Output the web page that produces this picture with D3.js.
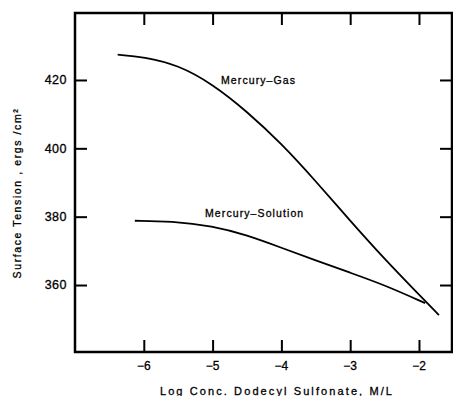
<!DOCTYPE html>
<html>
<head>
<meta charset="utf-8">
<script src="https://cdn.jsdelivr.net/npm/d3@7"></script>
<style>
  body { margin: 0; background: #fff; }
  text { font-family: "Liberation Sans", Arial, sans-serif; fill: #000; }
</style>
</head>
<body>
<svg id="chart" width="453" height="396"></svg>
<script>
// data
var gasX = [-6.38, -6.0, -5.5, -5.0, -4.5, -4.0, -3.5, -3.0, -2.5, -2.0, -1.71];
var gasY = [427.4, 426.8, 424.4, 418.8, 410.8, 401.4, 390.4, 378.8, 367.6, 357.2, 351.2];
var solX = [-6.13, -5.6, -5.0, -4.5, -4.0, -3.5, -3.0, -2.5, -1.91];
var solY = [378.8, 378.7, 377.3, 374.6, 370.9, 367.2, 363.6, 360.0, 354.7];
var xTicks = [-6, -5, -4, -3, -2];
var yTicks = [360, 380, 400, 420];

var svg = d3.select("#chart"),
	margin = {top: 13, right: 1, bottom: 44, left: 75},
	width = +svg.attr("width") - margin.left - margin.right,
	height = +svg.attr("height") - margin.top - margin.bottom;

var x = d3.scaleLinear()
	.domain([-7.0, -1.52])
	.range([margin.left, margin.left + width]);

var y = d3.scaleLinear()
	.domain([340.4, 439.6])
	.range([margin.top + height, margin.top]);

var tickLen = 12;

// axes on all four sides, ticks pointing inward
svg.append("g")
	.attr("transform", "translate(0," + (margin.top + height) + ")")
	.call(d3.axisTop(x).tickValues(xTicks).tickSize(tickLen).tickFormat(""));

svg.append("g")
	.attr("transform", "translate(0," + margin.top + ")")
	.call(d3.axisBottom(x).tickValues(xTicks).tickSize(tickLen).tickFormat(""));

svg.append("g")
	.attr("transform", "translate(" + margin.left + ",0)")
	.call(d3.axisRight(y).tickValues(yTicks).tickSize(tickLen).tickFormat(""));

svg.append("g")
	.attr("transform", "translate(" + (margin.left + width) + ",0)")
	.call(d3.axisLeft(y).tickValues(yTicks).tickSize(tickLen).tickFormat(""));

svg.selectAll(".domain").remove();
svg.selectAll(".tick line")
	.attr("stroke", "#000")
	.attr("stroke-width", 2);

svg.append("rect")
	.attr("x", margin.left)
	.attr("y", margin.top)
	.attr("width", width)
	.attr("height", height)
	.attr("fill", "none")
	.attr("stroke", "#000")
	.attr("stroke-width", 2.5);

// tick labels
svg.selectAll("text.xlab")
	.data(xTicks)
	.enter()
	.append("text")
	.attr("class", "xlab")
	.attr("x", function(d) { return x(d); })
	.attr("y", margin.top + height + 18)
	.attr("text-anchor", "middle")
	.attr("font-size", "12px")
	.attr("stroke", "#000")
	.attr("stroke-width", 0.3)
	.text(function(d) { return "\u2212" + Math.abs(d); });

svg.selectAll("text.ylab")
	.data(yTicks)
	.enter()
	.append("text")
	.attr("class", "ylab")
	.attr("x", margin.left - 8)
	.attr("y", function(d) { return y(d); })
	.attr("dy", "0.35em")
	.attr("text-anchor", "end")
	.attr("font-size", "12.5px")
	.attr("letter-spacing", "0.5px")
	.attr("stroke", "#000")
	.attr("stroke-width", 0.3)
	.text(function(d) { return d; });

// axis titles
svg.append("text")
	.attr("x", 277)
	.attr("y", 395)
	.attr("text-anchor", "middle")
	.attr("font-size", "11px")
	.attr("letter-spacing", "2.1px")
	.attr("stroke", "#000")
	.attr("stroke-width", 0.3)
	.text("Log Conc. Dodecyl Sulfonate, M/L");

svg.append("text")
	.attr("transform", "translate(21,193) rotate(-90)")
	.attr("text-anchor", "middle")
	.attr("font-size", "10.5px")
	.attr("letter-spacing", "1.6px")
	.attr("stroke", "#000")
	.attr("stroke-width", 0.3)
	.text("Surface Tension , ergs /cm\u00b2");

// curves
var line = d3.line()
	.x(function(d) { return x(d[0]); })
	.y(function(d) { return y(d[1]); })
	.curve(d3.curveBasis);

svg.append("path")
	.datum(d3.zip(gasX, gasY))
	.attr("d", line)
	.attr("fill", "none")
	.attr("stroke", "#000")
	.attr("stroke-width", 1.8);

svg.append("path")
	.datum(d3.zip(solX, solY))
	.attr("d", line)
	.attr("fill", "none")
	.attr("stroke", "#000")
	.attr("stroke-width", 1.8);

svg.append("text")
	.attr("x", 221)
	.attr("y", 84)
	.attr("font-size", "10.5px")
	.attr("letter-spacing", "1.1px")
	.attr("stroke", "#000")
	.attr("stroke-width", 0.3)
	.text("Mercury\u2013Gas");

svg.append("text")
	.attr("x", 205)
	.attr("y", 217)
	.attr("font-size", "10.5px")
	.attr("letter-spacing", "1.1px")
	.attr("stroke", "#000")
	.attr("stroke-width", 0.3)
	.text("Mercury\u2013Solution");
</script>
</body>
</html>
